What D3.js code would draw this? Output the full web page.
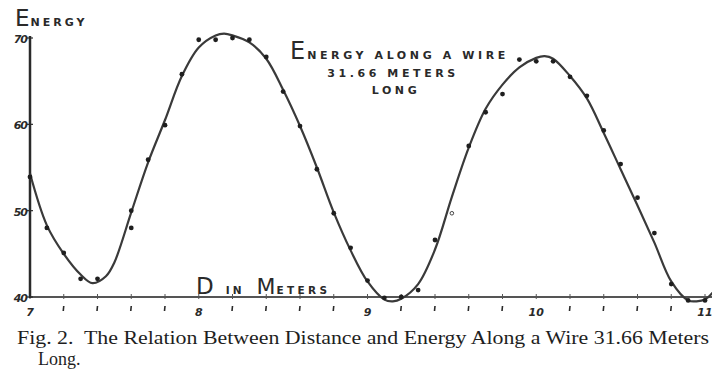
<!DOCTYPE html>
<html>
<head>
<meta charset="utf-8">
<script src="https://cdn.jsdelivr.net/npm/d3@7"></script>
<style>
  body { margin: 0; background: #fff; }
  svg { display: block; }
</style>
</head>
<body>
<svg id="chart"></svg>
<script>
// measured points, distance in meters and energy
const distance = [7.0, 7.1, 7.2, 7.3, 7.4, 7.6, 7.6, 7.7, 7.8, 7.9,
  8.0, 8.1, 8.2, 8.3, 8.4, 8.5, 8.6, 8.7, 8.8, 8.9,
  9.0, 9.1, 9.2, 9.3, 9.4, 9.5, 9.6, 9.7, 9.8, 9.9,
  10.0, 10.1, 10.2, 10.3, 10.4, 10.5, 10.6, 10.7, 10.8, 10.9, 11.0];
const energy = [53.9, 48.0, 45.1, 42.1, 42.1, 50.0, 48.0, 55.9, 59.9, 65.8,
  69.8, 69.8, 70.0, 69.8, 67.8, 63.8, 59.8, 54.8, 49.7, 45.7,
  41.9, 39.9, 40.0, 40.8, 46.6, 49.7, 57.5, 61.4, 63.5, 67.5,
  67.3, 67.3, 65.5, 63.3, 59.3, 55.4, 51.5, 47.4, 41.5, 39.6, 39.6];
const openPoints = [9.5];

// the hand drawn curve
const curveDistance = [7.0, 7.1, 7.2, 7.3, 7.37, 7.45, 7.5, 7.6, 7.7, 7.8, 7.9,
  8.0, 8.1, 8.15, 8.2, 8.3, 8.4, 8.5, 8.6, 8.7, 8.8, 8.9,
  9.0, 9.1, 9.15, 9.2, 9.3, 9.4, 9.5, 9.6, 9.7, 9.8, 9.9,
  10.0, 10.05, 10.1, 10.2, 10.3, 10.4, 10.5, 10.6, 10.7, 10.8, 10.9, 10.95, 11.0, 11.05];
const curveEnergy = [54.3, 48.3, 45.0, 42.6, 41.6, 42.4, 44.0, 49.8, 55.6, 60.5, 65.6,
  68.9, 70.3, 70.5, 70.3, 69.5, 67.6, 64.0, 59.8, 55.0, 49.8, 45.4,
  41.8, 39.7, 39.5, 39.8, 41.5, 45.5, 51.6, 57.3, 61.8, 64.6, 66.6,
  67.7, 67.9, 67.6, 65.6, 63.0, 59.0, 54.8, 50.6, 46.3, 41.8, 39.6, 39.5, 39.7, 40.6];

const xTickLabels = [7, 8, 9, 10, 11];
const yTickLabels = [40, 50, 60, 70];

const width = 712, height = 370;
const svg = d3.select('#chart').attr('width', width).attr('height', height);

const x = d3.scaleLinear().domain([7, 11]).range([30, 705]);
const y = d3.scaleLinear().domain([40, 70]).range([297, 38]);

const ink = '#2a2a2a';
const hand = '"DejaVu Sans", sans-serif';

// x axis line and ticks
svg.append('line')
  .attr('x1', x(7)).attr('x2', width)
  .attr('y1', y(40)).attr('y2', y(40))
  .attr('stroke', '#555').attr('stroke-width', 2);

const minor = d3.range(7, 11.01, 0.2).map(d => +d.toFixed(1));
svg.selectAll('.xt').data(minor).enter().append('line')
  .attr('x1', d => x(d)).attr('x2', d => x(d))
  .attr('y1', y(40) - 3).attr('y2', y(40) + 2)
  .attr('stroke', '#555').attr('stroke-width', 1);

svg.selectAll('.xm').data(minor.filter(d => !xTickLabels.includes(d))).enter().append('line')
  .attr('x1', d => x(d)).attr('x2', d => x(d) - 0.5)
  .attr('y1', y(40) + 9).attr('y2', y(40) + 14)
  .attr('stroke', ink).attr('stroke-width', 1.6);

svg.selectAll('.xl').data(xTickLabels).enter().append('text')
  .attr('x', d => x(d)).attr('y', y(40) + 19)
  .attr('text-anchor', 'middle')
  .attr('font-family', hand).attr('font-style', 'italic').attr('font-weight', 'bold')
  .attr('font-size', 11).attr('fill', ink)
  .text(d => d);

// y axis line, ticks and labels
svg.append('line')
  .attr('x1', x(7)).attr('x2', x(7))
  .attr('y1', y(70) - 2).attr('y2', y(40) + 1)
  .attr('stroke', ink).attr('stroke-width', 2.5);

svg.selectAll('.yt').data(yTickLabels).enter().append('line')
  .attr('x1', x(7) - 4).attr('x2', x(7) + 3)
  .attr('y1', d => y(d)).attr('y2', d => y(d))
  .attr('stroke', ink).attr('stroke-width', 1.2);

svg.selectAll('.yl').data(yTickLabels).enter().append('text')
  .attr('x', x(7) - 3).attr('y', d => y(d) + 5)
  .attr('text-anchor', 'end')
  .attr('font-family', hand).attr('font-style', 'italic').attr('font-weight', 'bold')
  .attr('font-size', 11).attr('letter-spacing', -1).attr('fill', ink)
  .text(d => d);

// the curve
const line = d3.line()
  .x((d, i) => x(curveDistance[i]))
  .y(d => y(d))
  .curve(d3.curveCatmullRom.alpha(0.5));

svg.append('path')
  .attr('d', line(curveEnergy))
  .attr('fill', 'none')
  .attr('stroke', '#3a3a3a')
  .attr('stroke-width', 2.2);

// measured points
svg.selectAll('.pt').data(energy).enter().append('circle')
  .attr('cx', (d, i) => x(distance[i]))
  .attr('cy', d => y(d))
  .attr('r', (d, i) => openPoints.includes(distance[i]) ? 1.8 : 2.4)
  .attr('fill', (d, i) => openPoints.includes(distance[i]) ? '#fff' : '#1e1e1e')
  .attr('stroke', '#444')
  .attr('stroke-width', (d, i) => openPoints.includes(distance[i]) ? 1 : 0);

// hand lettered texts: big first letter, small caps after
function lettered(parts, xPos, yPos, anchor) {
  const t = svg.append('text')
    .attr('x', xPos).attr('y', yPos)
    .attr('text-anchor', anchor || 'start')
    .attr('font-family', hand).attr('fill', ink);
  parts.forEach(p => {
    t.append('tspan')
      .attr('font-size', p[1])
      .attr('letter-spacing', p[2])
      .attr('font-weight', p[1] < 15 ? 'bold' : 'normal')
      .attr('dx', p[3] || 0)
      .text(p[0]);
  });
  return t;
}

lettered([['E', 23, 0], ['NERGY', 11, 3, 1]], 15, 26);
lettered([['E', 24, 0], ['NERGY ALONG A WIRE', 11, 3.6, 2]], 290, 59);
lettered([['31.66 METERS', 11, 3.6]], 393, 77, 'middle');
lettered([['LONG', 11, 3.6]], 396, 94, 'middle');
lettered([['D', 23, 0], ['IN', 10.5, 3, 12], ['M', 22, 0, 12], ['ETERS', 10.5, 3.4, 1]], 196, 294);

// caption
const serif = '"Liberation Serif", "Times New Roman", serif';
svg.append('text')
  .attr('x', 17).attr('y', 344)
  .attr('font-family', serif)
  .attr('font-size', 18).attr('fill', '#1e1e1e')
  .style('white-space', 'pre')
  .attr('textLength', 692).attr('lengthAdjust', 'spacingAndGlyphs')
  .text('Fig. 2.  The Relation Between Distance and Energy Along a Wire 31.66 Meters');

svg.append('text')
  .attr('x', 38).attr('y', 365)
  .attr('font-family', serif)
  .attr('font-size', 18).attr('fill', '#1e1e1e')
  .text('Long.');
</script>
</body>
</html>
